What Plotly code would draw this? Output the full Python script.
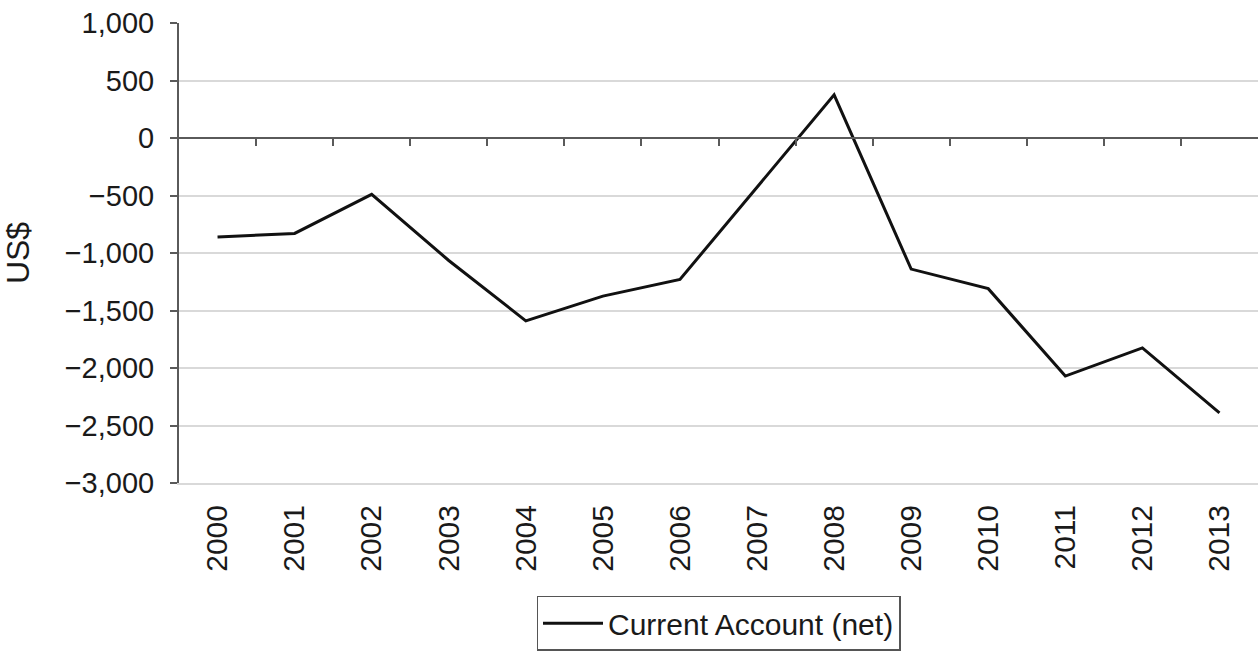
import plotly.graph_objects as go

# Net current account balance, US$
years = ["2000", "2001", "2002", "2003", "2004", "2005", "2006",
         "2007", "2008", "2009", "2010", "2011", "2012", "2013"]
current_account = [-860, -830, -490, -1065, -1590, -1375, -1230,
                   -430, 375, -1140, -1310, -2070, -1825, -2390]

y_ticks = [1000, 500, 0, -500, -1000, -1500, -2000, -2500, -3000]

FONT = "Liberation Sans, Arial, sans-serif"
AXIS = "#5a5a5a"
GRID = "#d9d9d9"

fig = go.Figure()
fig.add_trace(go.Scatter(
    x=years, y=current_account, mode="lines",
    name="Current Account (net)",
    line=dict(color="#111111", width=3),
))
# empty trace so the zero-line axis (x2) is rendered
fig.add_trace(go.Scatter(x=[], y=[], xaxis="x2", showlegend=False,
                         hoverinfo="skip"))

n = len(years)
fig.update_layout(
    width=1258, height=651,
    margin=dict(l=179, r=0, t=23, b=165),
    paper_bgcolor="white", plot_bgcolor="white",
    font=dict(family=FONT, size=29, color="#1a1a1a"),
    showlegend=True,
    legend=dict(
        x=0.5, xanchor="center", y=-0.245, yanchor="top",
        orientation="h", bordercolor="#555555", borderwidth=1.5,
        font=dict(size=30), itemwidth=60,
    ),
    xaxis=dict(
        type="category", range=[-0.5, n - 0.5],
        showgrid=False, showline=True, linecolor=GRID, linewidth=2,
        ticks="", tickangle=-90, ticklabelstandoff=8,
        tickfont=dict(size=30),
    ),
    xaxis2=dict(
        overlaying="x", anchor="free", position=0.75,
        range=[-0.5, n - 0.5], showgrid=False,
        showline=True, linecolor=AXIS, linewidth=2,
        ticks="outside", ticklen=7, tickwidth=2, tickcolor=AXIS,
        tickvals=[i + 0.5 for i in range(n - 1)], showticklabels=False,
        zeroline=False,
    ),
    yaxis=dict(
        range=[-3000, 1000], tickvals=y_ticks, tickformat=",",
        showgrid=True, gridcolor=GRID, gridwidth=2,
        showline=True, linecolor=AXIS, linewidth=2,
        ticks="outside", ticklen=7, tickwidth=2, tickcolor=AXIS,
        zeroline=False, ticklabelstandoff=10,
        tickfont=dict(size=29),
        title=dict(text="US$", font=dict(size=32), standoff=26),
    ),
)

fig.write_html("out.html")
